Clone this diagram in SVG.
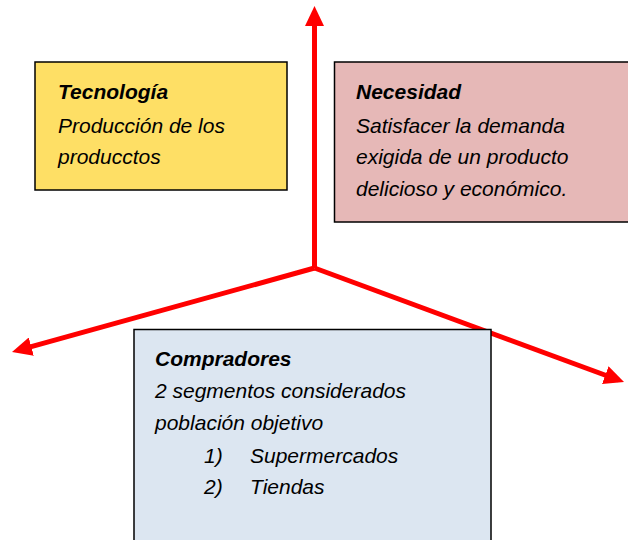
<svg xmlns="http://www.w3.org/2000/svg" width="628" height="540" viewBox="0 0 628 540">
<style>
.box{stroke:#000;stroke-width:1.5}
.t{font-family:"Liberation Sans",Arial,sans-serif;font-size:21px;font-style:italic;fill:#000}
.b{font-weight:bold}
.arr{stroke:#ff0000;stroke-width:5;fill:none;marker-end:url(#ah)}
</style>
<defs>
<marker id="ah" viewBox="0 0 20 19" markerWidth="20" markerHeight="19" refX="14" refY="9.5" orient="auto" markerUnits="userSpaceOnUse">
<path d="M0,0 L20,9.5 L0,19 z" fill="#ff0000"/>
</marker>
</defs>
<rect width="628" height="540" fill="#fff"/>
<g id="connectors">
<line class="arr" x1="314.5" y1="268" x2="314.5" y2="12"/>
<line class="arr" x1="314.5" y1="268" x2="17.8" y2="350.4"/>
<line class="arr" x1="314.5" y1="268" x2="618.4" y2="380"/>
</g>
<g id="tecnologia">
<rect class="box" x="35" y="62" width="252" height="128" fill="#fedf65"/>
<text class="t b" x="58" y="99">Tecnología</text>
<text class="t" x="58" y="133">Producción de los</text>
<text class="t" x="58" y="164">producctos</text>
</g>
<g id="necesidad">
<rect class="box" x="334.5" y="62" width="300" height="160" fill="#e6b8b7"/>
<text class="t b" x="356" y="99">Necesidad</text>
<text class="t" x="356" y="133">Satisfacer la demanda</text>
<text class="t" x="356" y="164">exigida de un producto</text>
<text class="t" x="356" y="196">delicioso y económico.</text>
</g>
<g id="compradores">
<rect class="box" x="134" y="329.5" width="357" height="230" fill="#dce6f1"/>
<text class="t b" x="155" y="366">Compradores</text>
<text class="t" x="155" y="398">2 segmentos considerados</text>
<text class="t" x="155" y="430">población objetivo</text>
<text class="t" x="204" y="463">1)</text>
<text class="t" x="250" y="463">Supermercados</text>
<text class="t" x="204" y="494">2)</text>
<text class="t" x="250" y="494">Tiendas</text>
</g>
</svg>
